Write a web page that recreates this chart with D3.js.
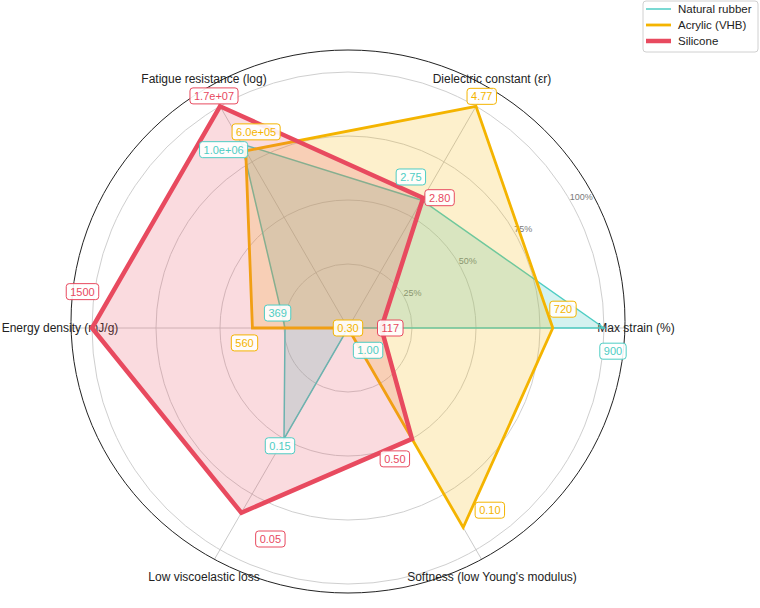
<!DOCTYPE html>
<html>
<head>
<meta charset="utf-8">
<script src="https://cdn.jsdelivr.net/npm/d3@7"></script>
<style>
  html, body { margin: 0; padding: 0; background: #fff; }
  svg { display: block; font-family: "Liberation Sans", Arial, Helvetica, sans-serif; }
</style>
</head>
<body>
<svg id="chart" width="760" height="608"></svg>
<script>
// ---------- data ----------
const axisNames = ["Max strain (%)", "Dielectric constant (εr)", "Fatigue resistance (log)",
                   "Energy density (mJ/g)", "Low viscoelastic loss", "Softness (low Young's modulus)"];
const seriesNames = ["Natural rubber", "Acrylic (VHB)", "Silicone"];
const maxStrain     = [900, 720, 117];
const dielectric    = [2.75, 4.77, 2.80];
const fatigueCycles = [1.0e6, 6.0e5, 1.7e7];
const energyDensity = [369, 560, 1500];
const viscoLoss     = [0.15, 0.30, 0.05];
const youngsModulus = [1.00, 0.10, 0.50];
const rTickValues = [0.25, 0.5, 0.75, 1.0];
const rTickLabels = ["25%", "50%", "75%", "100%"];

// ---------- styles / layout ----------
const colors = ["#4ECDC4", "#F4B400", "#E84A5F"];
const lineWidths = [1.5, 2.8, 4.5];
const fillOpacity = [0.25, 0.2, 0.2];
// label nudges per series per axis: [angle offset deg, radial pad px]
const labelNudge = [
  [[-5, 10], [7.4, 16], [4.9, 5], [-12, 9], [0, 8], [12, 30]],
  [[5, 11], [0, 11.5], [-4.9, 12], [8.2, 9], [0, 0], [7.9, 0.5]],
  [[0, 9], [-5.1, 9], [0, 12], [-7.8, 12], [9.8, 11.5], [-10.3, 11]]
];

// ---------- normalisation ----------
const maxNorm = arr => { const m = d3.max(arr); return arr.map(v => v / m); };
const logNorm = arr => { const m = Math.log10(d3.max(arr)); return arr.map(v => Math.log10(v) / m); };
const lowBetter = arr => { const m = d3.max(arr); return arr.map(v => 1 - v / m); };
const normCols = [maxNorm(maxStrain), maxNorm(dielectric), logNorm(fatigueCycles),
                  maxNorm(energyDensity), lowBetter(viscoLoss), lowBetter(youngsModulus)];
const rawCols = [maxStrain, dielectric, fatigueCycles, energyDensity, viscoLoss, youngsModulus];
const expFmt = v => {
  const e = Math.floor(Math.log10(v));
  const m = v / Math.pow(10, e);
  return m.toFixed(1) + "e+" + String(e).padStart(2, "0");
};
const fmts = [d3.format("d"), d3.format(".2f"), expFmt, d3.format("d"), d3.format(".2f"), d3.format(".2f")];

// ---------- geometry ----------
const svg = d3.select("#chart");
const cx = 348, cy = 328;
const r = d3.scaleLinear().domain([0, 1]).range([0, 256]);
const frame = { cx: 348, cy: 321.5, rx: 277, ry: 271.5 };
const rSpoke = r(1.2), rLabel = r(1.125);
const nAx = axisNames.length;
const theta = i => i * 2 * Math.PI / nAx; // math angle, CCW from +x
const px = (ang, rad) => cx + rad * Math.cos(ang);
const py = (ang, rad) => cy - rad * Math.sin(ang);

const defs = svg.append("defs");
defs.append("clipPath").attr("id", "frameClip").append("ellipse")
  .attr("cx", frame.cx).attr("cy", frame.cy).attr("rx", frame.rx).attr("ry", frame.ry);

const g = svg.append("g");

// grid rings
g.selectAll("circle.ring").data(rTickValues).join("circle")
  .attr("cx", cx).attr("cy", cy).attr("r", d => r(d))
  .attr("fill", "none").attr("stroke", "#cfcfcf").attr("stroke-width", 1);

// spokes
g.append("g").attr("clip-path", "url(#frameClip)")
  .selectAll("line.spoke").data(axisNames).join("line")
  .attr("x1", cx).attr("y1", cy)
  .attr("x2", (d, i) => px(theta(i), rSpoke)).attr("y2", (d, i) => py(theta(i), rSpoke))
  .attr("stroke", "#c4c4c4").attr("stroke-width", 0.9);

// outer frame
g.append("ellipse").attr("cx", frame.cx).attr("cy", frame.cy)
  .attr("rx", frame.rx).attr("ry", frame.ry)
  .attr("fill", "none").attr("stroke", "#222").attr("stroke-width", 1);

// radial tick labels
const tickAng = 30 * Math.PI / 180;
g.selectAll("text.rtick").data(rTickValues).join("text")
  .attr("x", d => px(tickAng, r(d))).attr("y", d => py(tickAng, r(d)))
  .attr("font-size", 9).attr("fill", "#7a7a7a")
  .text((d, i) => rTickLabels[i]);

// axis labels
g.selectAll("text.axis").data(axisNames).join("text")
  .attr("x", (d, i) => px(theta(i), rLabel)).attr("y", (d, i) => py(theta(i), rLabel))
  .attr("text-anchor", "middle").attr("dominant-baseline", "central")
  .attr("font-size", 12).attr("fill", "#222")
  .text(d => d);

// polygons
const radial = d3.lineRadial()
  .angle(d => Math.PI / 2 - d.a)
  .radius(d => r(d.v))
  .curve(d3.curveLinearClosed);

seriesNames.forEach((name, s) => {
  const pts = normCols.map((col, i) => ({ a: theta(i), v: col[s] }));
  const sg = svg.append("g").attr("transform", `translate(${cx},${cy})`);
  sg.append("path").attr("d", radial(pts))
    .attr("fill", colors[s]).attr("fill-opacity", fillOpacity[s]).attr("stroke", "none");
  sg.append("path").attr("d", radial(pts))
    .attr("fill", "none").attr("stroke", colors[s]).attr("stroke-width", lineWidths[s])
    .attr("stroke-linejoin", "miter");
});

// value labels
const lg = svg.append("g");
seriesNames.forEach((name, s) => {
  normCols.forEach((col, i) => {
    const [dA, pad] = labelNudge[s][i];
    const ang = theta(i) + dA * Math.PI / 180;
    const rad = r(col[s]) + pad;
    const x = px(ang, rad), y = py(ang, rad);
    const grp = lg.append("g").attr("transform", `translate(${x},${y})`);
    const rect = grp.append("rect");
    const t = grp.append("text").attr("text-anchor", "middle").attr("dominant-baseline", "central")
      .attr("font-size", 11).attr("fill", colors[s]).text(fmts[i](rawCols[i][s]));
    const w = t.node().getComputedTextLength() + 8, h = 16;
    rect.attr("x", -w / 2).attr("y", -h / 2).attr("width", w).attr("height", h)
      .attr("rx", 3).attr("fill", "#fff").attr("fill-opacity", 0.9)
      .attr("stroke", colors[s]).attr("stroke-width", 1);
  });
});

// legend
const leg = svg.append("g");
leg.append("rect").attr("x", 643).attr("y", 1).attr("width", 115).attr("height", 51)
  .attr("rx", 3).attr("fill", "#fff").attr("stroke", "#d0d0d0");
seriesNames.forEach((name, s) => {
  const y = 9 + s * 16;
  leg.append("line").attr("x1", 646).attr("x2", 671).attr("y1", y).attr("y2", y)
    .attr("stroke", colors[s]).attr("stroke-width", lineWidths[s]);
  leg.append("text").attr("x", 678).attr("y", y).attr("dominant-baseline", "central")
    .attr("font-size", 11.5).attr("fill", "#222").text(name);
});
</script>
</body>
</html>
